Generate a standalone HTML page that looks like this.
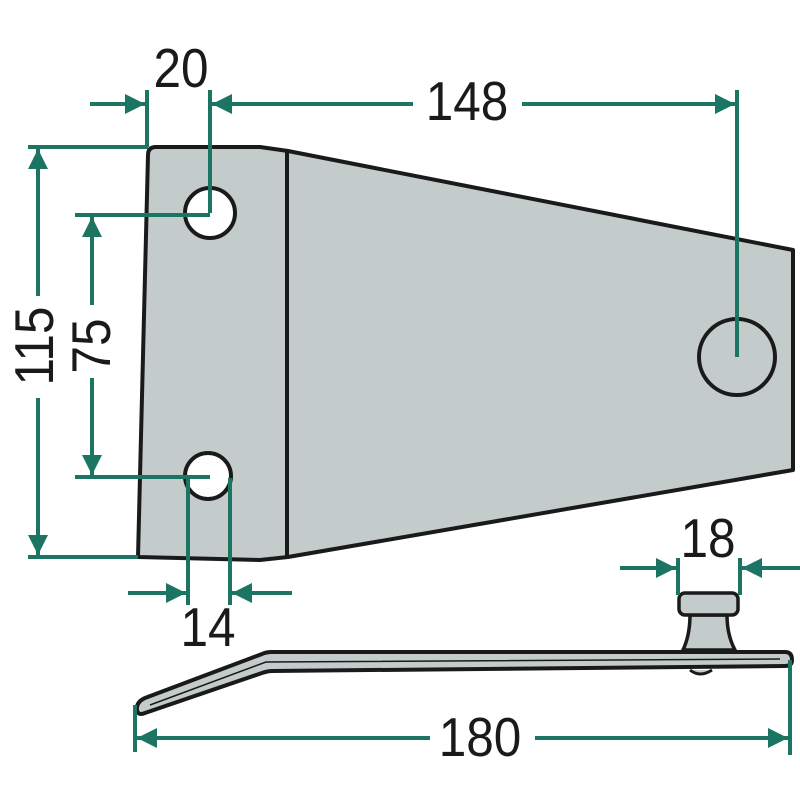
<!DOCTYPE html>
<html><head><meta charset="utf-8"><style>
html,body{margin:0;padding:0;background:#fff;width:800px;height:800px;overflow:hidden}
svg{display:block}
text{font-family:"Liberation Sans",sans-serif;fill:#1a1a1a}
</style></head><body>
<svg width="800" height="800" viewBox="0 0 800 800" xmlns="http://www.w3.org/2000/svg">
<defs>
<marker id="a" viewBox="0 0 10 10" refX="10" refY="5" markerWidth="26" markerHeight="20" markerUnits="userSpaceOnUse" orient="auto">
<path d="M0,0 L10,5 L0,10 z" fill="#1c7462"/></marker>
</defs>
<!-- plate -->
<path d="M156,147 L260,147 L288,151 L793,250 L793,470 L288,557 L260,560 L138,557 L148,155 Q148,147 156,147 Z" fill="#c3cccb" stroke="#1a1a1a" stroke-width="4" stroke-linejoin="round"/>
<line x1="287" y1="152" x2="287" y2="557" stroke="#1a1a1a" stroke-width="4"/>
<circle cx="210" cy="213" r="25" fill="#fff" stroke="#1a1a1a" stroke-width="4"/>
<circle cx="208" cy="476" r="23" fill="#fff" stroke="#1a1a1a" stroke-width="4"/>
<circle cx="737" cy="357" r="38" fill="#c3cccb" stroke="#1a1a1a" stroke-width="4"/>
<!-- side view blade -->
<path d="M690,615 Q690,635 683,650 L735,650 Q727,635 727,615 Z" fill="#c3cccb" stroke="#1a1a1a" stroke-width="3.5"/>
<rect x="679" y="593" width="59" height="22" rx="6" fill="#c3cccb" stroke="#1a1a1a" stroke-width="3.5"/>
<path d="M137,710 Q136,702 145,698 L262,654 Q266,652 272,652 L785,652 Q792,652 792,660 Q792,666 785,666 L272,671 Q268,671 262,673 L145,713 Q138,716 137,710 Z" fill="#c3cccb" stroke="#1a1a1a" stroke-width="4"/>
<path d="M150,705 L266,662 L780,659" fill="none" stroke="#1a1a1a" stroke-width="1.5"/>
<path d="M690,670 Q700,678 712,670" fill="#c3cccb" stroke="#1a1a1a" stroke-width="3"/>
<g stroke="#1c7462" stroke-width="4" fill="none">
<line x1="147" y1="90" x2="147" y2="147"/>
<line x1="210" y1="90" x2="210" y2="213"/>
<line x1="737" y1="90" x2="737" y2="357"/>
<line x1="28" y1="147" x2="148" y2="147"/>
<line x1="28" y1="557" x2="138" y2="557"/>
<line x1="75" y1="215" x2="210" y2="215"/>
<line x1="75" y1="477" x2="210" y2="477"/>
<line x1="188" y1="478" x2="188" y2="605"/>
<line x1="230" y1="478" x2="230" y2="605"/>
<line x1="678" y1="558" x2="678" y2="595"/>
<line x1="740" y1="558" x2="740" y2="595"/>
<line x1="135" y1="705" x2="135" y2="752"/>
<line x1="790" y1="660" x2="790" y2="755"/>
<line x1="90" y1="104" x2="145" y2="104" marker-end="url(#a)"/>
<line x1="413" y1="104" x2="212" y2="104" marker-end="url(#a)"/>
<line x1="522" y1="104" x2="735" y2="104" marker-end="url(#a)"/>
<line x1="38" y1="296" x2="38" y2="149" marker-end="url(#a)"/>
<line x1="38" y1="398" x2="38" y2="555" marker-end="url(#a)"/>
<line x1="92" y1="305" x2="92" y2="217" marker-end="url(#a)"/>
<line x1="92" y1="378" x2="92" y2="475" marker-end="url(#a)"/>
<line x1="128" y1="593" x2="186" y2="593" marker-end="url(#a)"/>
<line x1="292" y1="593" x2="232" y2="593" marker-end="url(#a)"/>
<line x1="620" y1="568" x2="676" y2="568" marker-end="url(#a)"/>
<line x1="800" y1="568" x2="742" y2="568" marker-end="url(#a)"/>
<line x1="430" y1="738" x2="137" y2="738" marker-end="url(#a)"/>
<line x1="535" y1="738" x2="788" y2="738" marker-end="url(#a)"/>
</g>
<g font-size="55" text-anchor="middle">
<text transform="translate(181,87) scale(0.9,1)">20</text>
<text transform="translate(467,120) scale(0.9,1)">148</text>
<text transform="translate(208,646) scale(0.9,1)">14</text>
<text transform="translate(708,557) scale(0.9,1)">18</text>
<text transform="translate(480,756) scale(0.9,1)">180</text>
<text transform="translate(53,346) rotate(-90) scale(0.9,1)">115</text>
<text transform="translate(110,346) rotate(-90) scale(0.9,1)">75</text>
</g>
</svg>
</body></html>
